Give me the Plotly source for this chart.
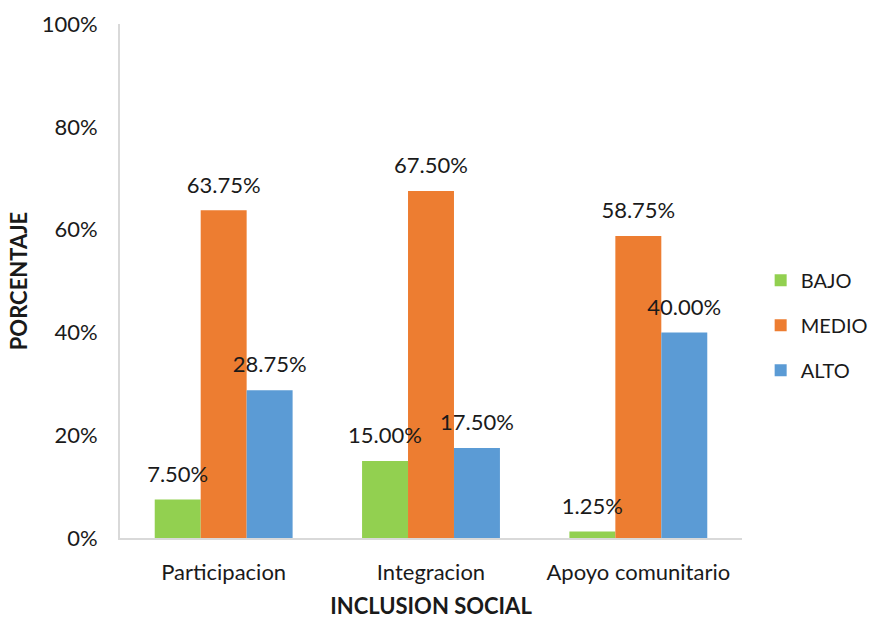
import plotly.graph_objects as go

categories = ["Participacion", "Integracion", "Apoyo comunitario"]
bajo = [7.50, 15.00, 1.25]
medio = [63.75, 67.50, 58.75]
alto = [28.75, 17.50, 40.00]
series_names = ["BAJO", "MEDIO", "ALTO"]
colors = ["#92D050", "#ED7D31", "#5B9BD5"]

FONT = "Lato, Open Sans, sans-serif"
FS = 22
TXT = "#1a1a1a"
fig = go.Figure()
for i, (name, vals) in enumerate(zip(series_names, [bajo, medio, alto])):
    ys = [v / 100 for v in vals]
    fig.add_trace(go.Bar(
        x=categories, y=ys, name=name,
        marker=dict(color=colors[i], line=dict(width=0)),
        legendgroup=name, offsetgroup=name,
    ))
    # data labels in a grouped scatter so they align with their bars
    fig.add_trace(go.Scatter(
        x=categories, y=ys, mode="markers+text",
        text=[f"{v:.2f}%" for v in vals], textposition="top center",
        textfont=dict(family=FONT, size=FS, color=TXT),
        marker=dict(size=18, opacity=0),
        offsetgroup=name, showlegend=False, hoverinfo="skip", cliponaxis=False,
    ))

fig.update_layout(
    width=871, height=619,
    margin=dict(l=120, r=129, t=24, b=81, autoexpand=False),
    paper_bgcolor="white", plot_bgcolor="white",
    barmode="group", bargap=0.335, bargroupgap=0,
    scattermode="group", scattergap=0.335,
    font=dict(family=FONT, size=FS, color=TXT),
    legend=dict(x=1.03, y=0.414, xanchor="left", yanchor="middle",
                font=dict(family=FONT, size=20, color=TXT),
                tracegroupgap=16, itemwidth=30),
    xaxis=dict(showline=True, linecolor="#D9D9D9", linewidth=2,
               showgrid=False, ticks="", ticklabelstandoff=14, automargin=False,
               title=dict(text="<b>INCLUSION SOCIAL</b>", standoff=18,
                          font=dict(family=FONT, size=FS, color=TXT))),
    yaxis=dict(range=[0, 1], dtick=0.2, tickformat=".0%", automargin=False,
               showline=True, linecolor="#D9D9D9", linewidth=2,
               showgrid=False, ticks="", ticklabelstandoff=16,
               title=dict(text="<b>PORCENTAJE</b>", standoff=8,
                          font=dict(family=FONT, size=FS, color=TXT))),
)

fig.write_html("out.html", config={"displayModeBar": False},
               post_script="document.body.style.margin='0';")
